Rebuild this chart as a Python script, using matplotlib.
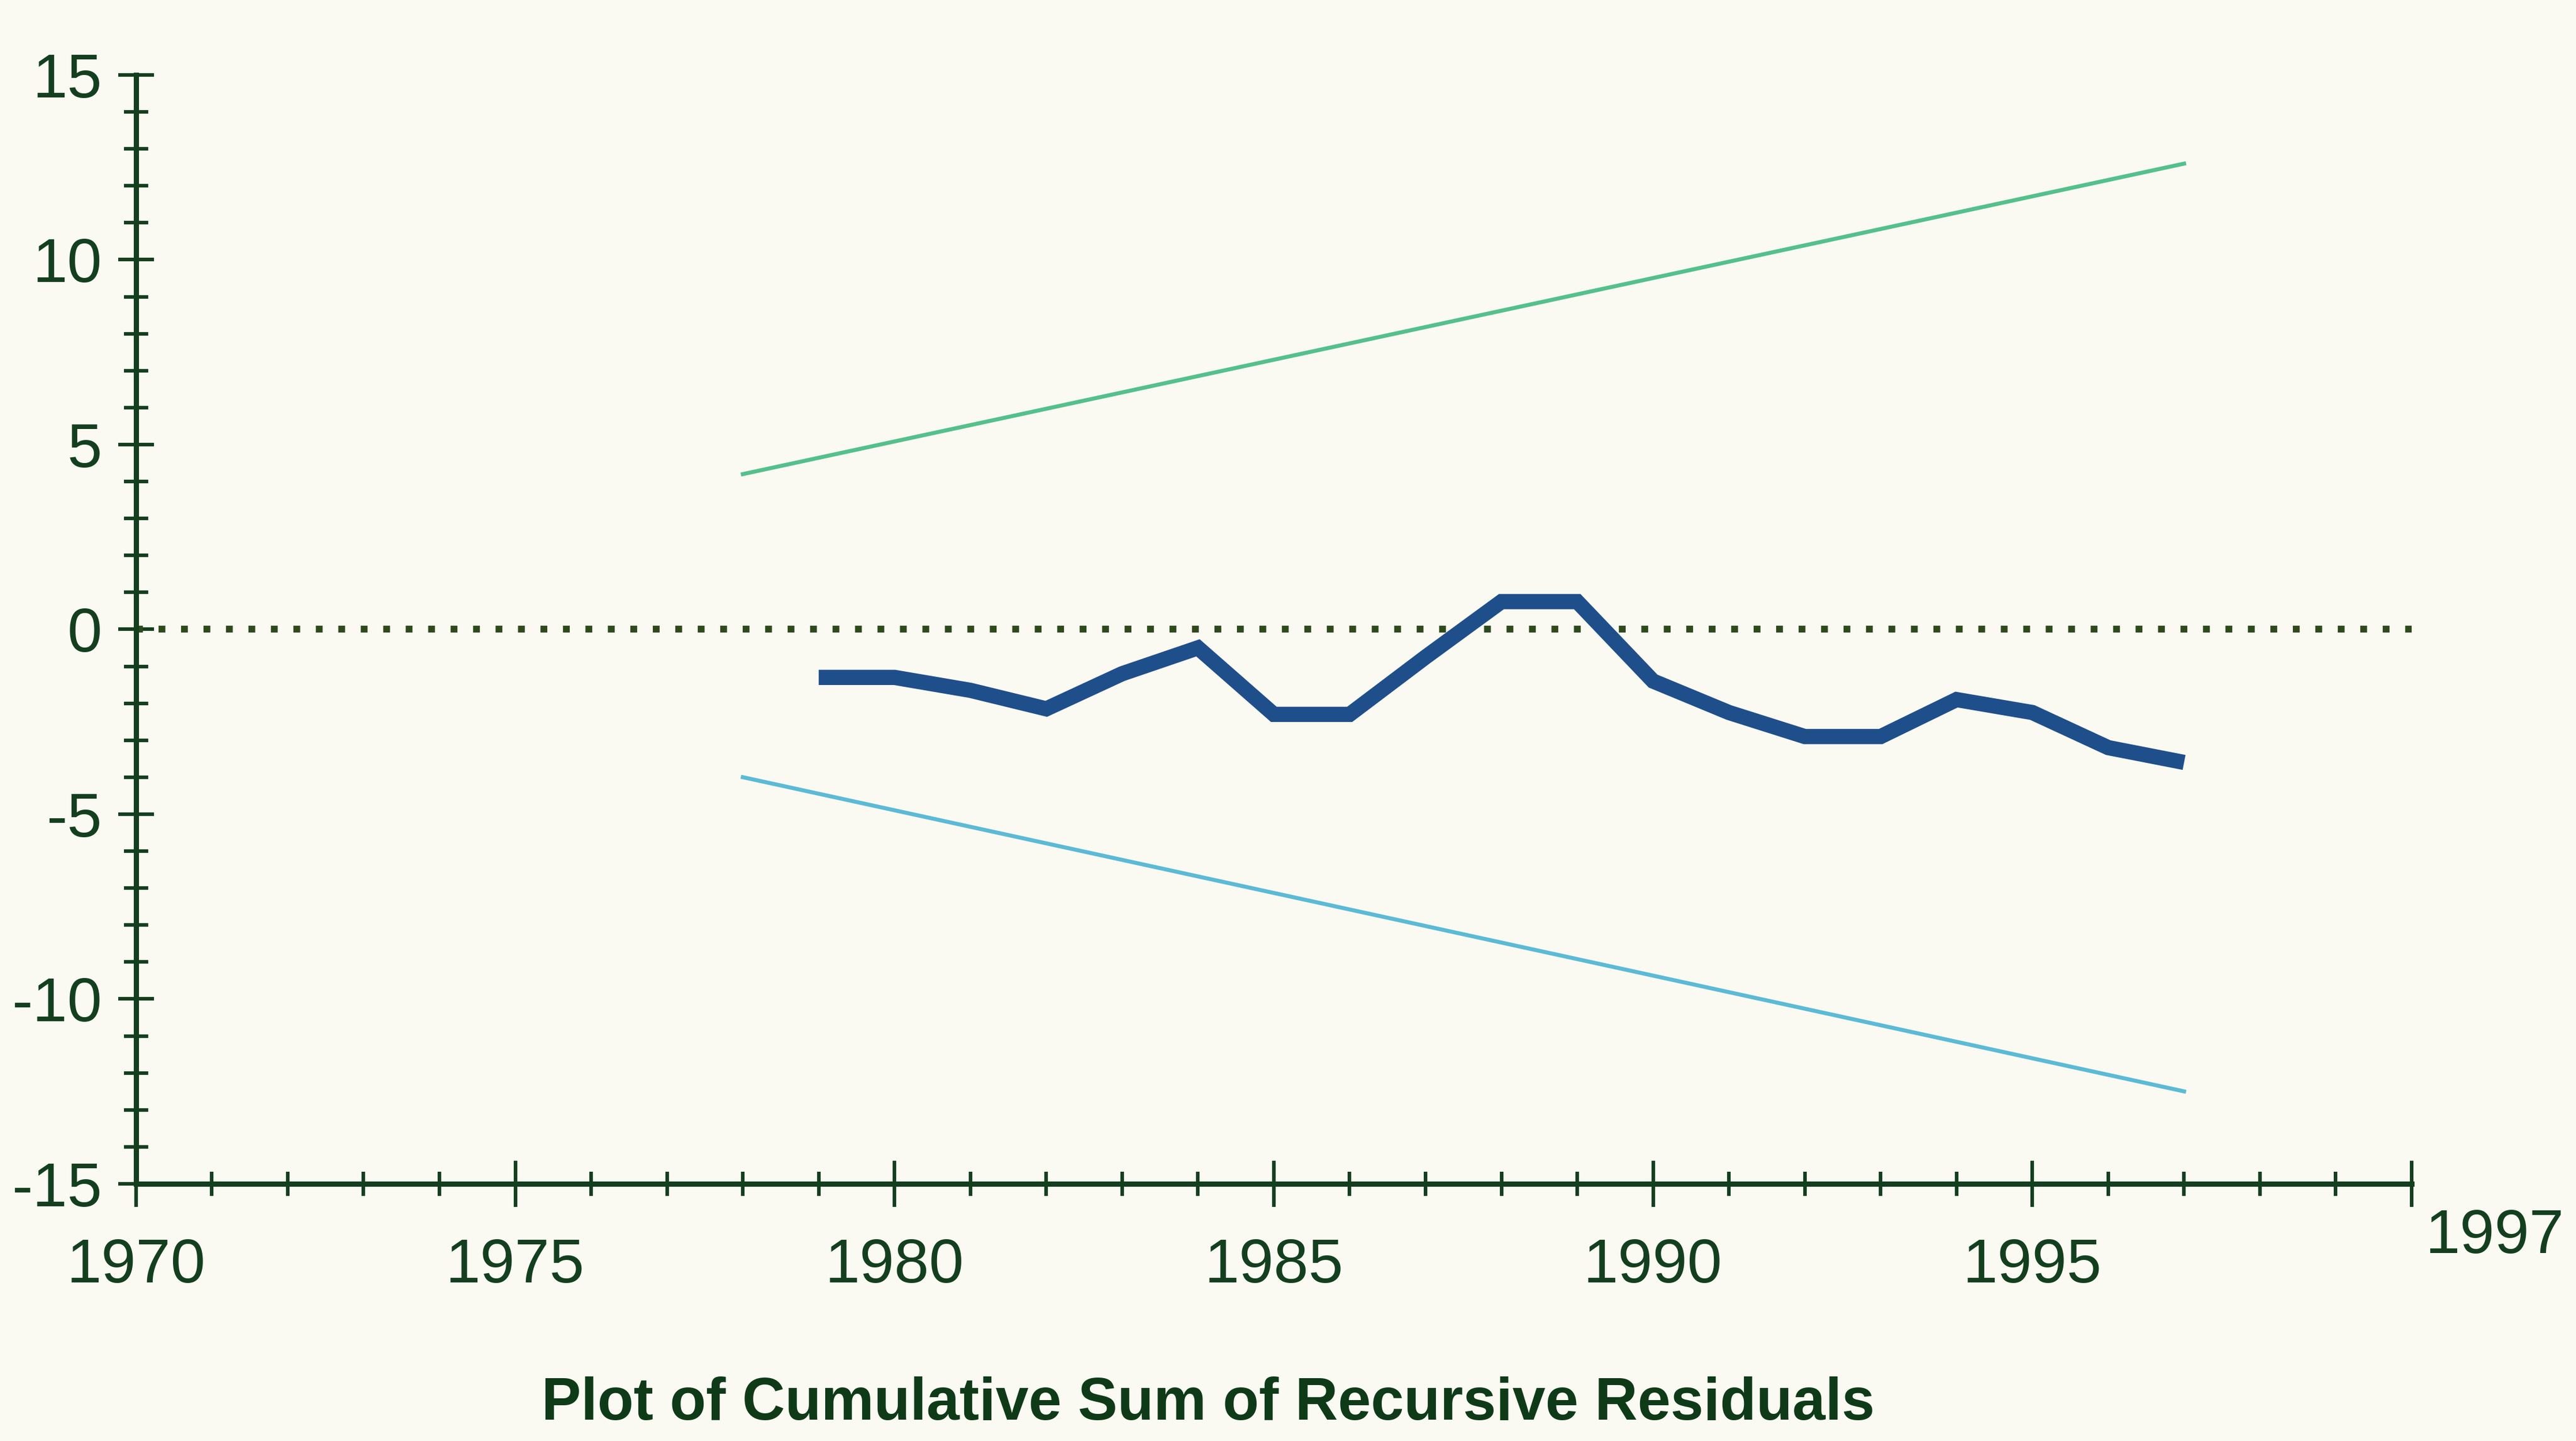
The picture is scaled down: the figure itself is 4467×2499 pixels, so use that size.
import matplotlib
matplotlib.use('Agg')
import matplotlib.pyplot as plt
from matplotlib.ticker import MultipleLocator, FixedLocator

# ---- data ----
cusum_years = [1979, 1980, 1981, 1982, 1983, 1984, 1985, 1986, 1987, 1988,
               1989, 1990, 1991, 1992, 1993, 1994, 1995, 1996, 1997]
cusum_vals = [-1.3, -1.3, -1.65, -2.15, -1.2, -0.5, -2.3, -2.3, -0.75, 0.75,
              0.75, -1.4, -2.25, -2.9, -2.9, -1.9, -2.25, -3.2, -3.6]
bound_years = [1978, 1997]
upper_bound = [4.2, 12.6]
lower_bound = [-4.0, -12.5]
zero_years = [1970, 2000]
zero_vals = [0, 0]
x_major = [1970, 1975, 1980, 1985, 1990, 1995, 2000]
x_major_labels = ['1970', '1975', '1980', '1985', '1990', '1995', '']
end_label = '1997'
y_major = [-15, -10, -5, 0, 5, 10, 15]
title = 'Plot of Cumulative Sum of Recursive Residuals'

plt.rcParams['axes.unicode_minus'] = False
FONT = ['Liberation Sans Narrow', 'DejaVu Sans Condensed', 'Liberation Sans', 'DejaVu Sans']
BG = '#FAFAF3'
AX = '#143F1F'

fig = plt.figure(figsize=(44.67, 24.99), dpi=100, facecolor=BG)
ax = fig.add_axes([0.0528, 0.1785, 0.8834, 0.7695], facecolor=BG)

ax.plot(zero_years, zero_vals, color='#2E4A1C', lw=8.5,
        linestyle=(0, (1, 2.3)), dash_capstyle='butt', zorder=2)
ax.plot(bound_years, upper_bound, color='#55C08C', lw=5, zorder=3)
ax.plot(bound_years, lower_bound, color='#5CBAD6', lw=5, zorder=3)
ax.plot(cusum_years, cusum_vals, color='#1F4F8B', lw=19,
        solid_joinstyle='miter', solid_capstyle='butt', zorder=4)

ax.set_xlim(1970, 2000)
ax.set_ylim(-15, 15)

for s in ['top', 'right']:
    ax.spines[s].set_visible(False)
for s in ['left', 'bottom']:
    ax.spines[s].set_color(AX)
    ax.spines[s].set_linewidth(6.5)

ax.xaxis.set_major_locator(FixedLocator(x_major))
ax.xaxis.set_minor_locator(MultipleLocator(1))
ax.set_xticklabels(x_major_labels)
ax.yaxis.set_major_locator(FixedLocator(y_major))
ax.yaxis.set_minor_locator(MultipleLocator(1))
ax.set_yticklabels([str(v) for v in y_major])

ax.tick_params(axis='both', which='major', direction='inout', length=58, width=4.5,
               color=AX, labelcolor=AX, labelsize=78)
ax.tick_params(axis='both', which='minor', direction='inout', length=30, width=4.5, color=AX)
ax.tick_params(axis='x', which='major', pad=38)
ax.tick_params(axis='y', which='major', pad=20, length=45)
for lab in ax.get_xticklabels() + ax.get_yticklabels():
    lab.set_family(FONT)

ax.annotate(end_label, xy=(2000, -15), xytext=(104, -30), textcoords='offset points',
            ha='center', va='top', fontsize=78, color=AX, family=FONT,
            annotation_clip=False)

fig.text(0.469, 0.0148, title, ha='center', va='baseline', fontsize=74,
         fontweight='bold', color='#0F3A18', family=FONT)

fig.savefig('out.png', dpi=100, facecolor=BG)
